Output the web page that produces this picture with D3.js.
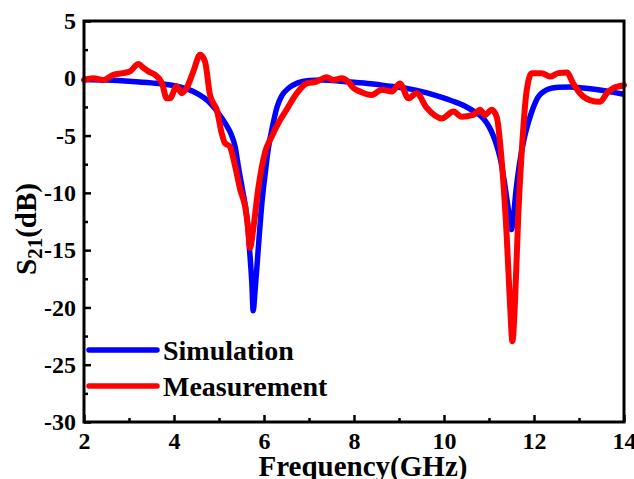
<!DOCTYPE html>
<html>
<head>
<meta charset="utf-8">
<script src="https://cdn.jsdelivr.net/npm/d3@7"></script>
<style>
  body { margin:0; background:#ffffff; }
  svg { display:block; }
  text { font-family:"Times New Roman","Liberation Serif",serif; font-weight:bold; fill:#000; }
</style>
</head>
<body>
<svg id="chart" width="634" height="479"></svg>
<script>
// simulation curve (GHz, dB)
var simFreq=[2.0,2.5,3.0,3.5,4.0,4.3,4.55,4.75,4.9,5.05,5.15,5.26,5.36,5.43,5.53,5.62,5.68,5.73,5.76,5.8,5.84,5.87,5.96,6.03,6.09,6.2,6.29,6.4,6.55,6.75,7.0,7.3,7.7,8.0,8.43,8.8,9.2,9.6,9.9,10.2,10.45,10.65,10.82,10.95,11.05,11.15,11.25,11.34,11.42,11.47,11.5,11.54,11.6,11.68,11.78,11.88,11.98,12.08,12.2,12.35,12.55,12.8,13.1,13.5,13.8,14.0];
var simS21=[-0.1,-0.15,-0.25,-0.4,-0.65,-0.95,-1.4,-1.95,-2.6,-3.4,-4.0,-4.8,-6.0,-7.7,-9.9,-12.1,-15.0,-17.9,-20.3,-18.6,-16.6,-15.0,-10.6,-8.2,-6.3,-4.0,-2.5,-1.5,-0.85,-0.4,-0.2,-0.15,-0.25,-0.35,-0.5,-0.7,-0.9,-1.25,-1.6,-2.0,-2.4,-2.85,-3.3,-3.9,-4.6,-5.6,-7.0,-9.0,-11.2,-12.6,-13.2,-12.2,-9.8,-7.4,-5.3,-3.8,-2.6,-1.7,-1.2,-0.9,-0.78,-0.75,-0.85,-1.05,-1.25,-1.4];

// measurement curve (GHz, dB)
var measFreq=[2.0,2.21,2.43,2.65,2.87,3.02,3.21,3.32,3.43,3.58,3.73,3.84,3.91,4.06,4.17,4.28,4.43,4.58,4.69,4.8,4.87,4.95,5.06,5.13,5.24,5.36,5.47,5.58,5.65,5.69,5.76,5.87,6.02,6.17,6.32,6.5,6.73,6.95,7.17,7.39,7.54,7.73,7.87,7.99,8.13,8.39,8.62,8.84,9.02,9.21,9.39,9.62,9.95,10.21,10.39,10.65,10.8,10.91,11.06,11.17,11.28,11.39,11.47,11.52,11.58,11.65,11.73,11.84,11.95,12.17,12.36,12.54,12.73,12.87,13.02,13.24,13.47,13.62,13.76,13.95,14.0];
var measS21=[-0.15,0.0,-0.15,0.3,0.45,0.6,1.25,0.9,0.6,0.3,-0.4,-1.75,-1.75,-0.7,-1.3,-0.85,0.6,2.05,1.45,-1.45,-2.15,-2.75,-4.8,-5.65,-5.95,-7.7,-9.7,-11.2,-13.2,-14.8,-13.2,-9.7,-6.5,-5.1,-3.9,-2.75,-1.3,-0.45,-0.3,0.1,-0.15,0.0,-0.3,-0.85,-1.15,-1.45,-1.0,-1.15,-0.45,-1.75,-1.3,-2.6,-3.5,-2.9,-3.35,-3.2,-2.75,-3.2,-2.75,-3.35,-7.1,-13.5,-19.9,-22.95,-19.3,-12.05,-6.25,-1.0,0.45,0.45,0.15,0.45,0.5,-0.45,-1.3,-1.9,-2.05,-1.3,-0.85,-0.65,-0.6];

var xMajor=[2,4,6,8,10,12,14];
var xMinor=[3,5,7,9,11,13];
var yMajor=[5,0,-5,-10,-15,-20,-25,-30];
var yMinor=[2.5,-2.5,-7.5,-12.5,-17.5,-22.5,-27.5];

var seriesNames=["Simulation","Measurement"];
var seriesColors=["#0000ff","#ff0000"];

var plotL=84, plotR=624, plotT=21, plotB=422;

var svg=d3.select("#chart");

var x=d3.scaleLinear().domain([2,14]).range([plotL,plotR]);
var y=d3.scaleLinear().domain([-30,5]).range([plotB,plotT]);

// plain hyphen like the original, not the unicode minus
var fmt=function(d){ return String(d); };

// minor ticks
svg.append("g")
    .attr("transform","translate(0,"+plotB+")")
    .call(d3.axisBottom(x).tickValues(xMinor).tickSize(-4).tickFormat(""))
    .call(function(g){ g.select(".domain").remove(); g.selectAll("line").attr("stroke","#000").attr("stroke-width",2.5); });

svg.append("g")
    .attr("transform","translate("+plotL+",0)")
    .call(d3.axisLeft(y).tickValues(yMinor).tickSize(-4).tickFormat(""))
    .call(function(g){ g.select(".domain").remove(); g.selectAll("line").attr("stroke","#000").attr("stroke-width",2.5); });

// major ticks + labels
svg.append("g")
    .attr("transform","translate(0,"+plotB+")")
    .call(d3.axisBottom(x).tickValues(xMajor).tickSize(-7).tickPadding(10).tickFormat(fmt))
    .call(function(g){
        g.select(".domain").remove();
        g.selectAll("line").attr("stroke","#000").attr("stroke-width",2.5);
        g.selectAll("text").attr("font-family",null).attr("font-size",null).style("font-size","24px");
    });

svg.append("g")
    .attr("transform","translate("+plotL+",0)")
    .call(d3.axisLeft(y).tickValues(yMajor).tickSize(-7).tickPadding(8).tickFormat(fmt))
    .call(function(g){
        g.select(".domain").remove();
        g.selectAll("line").attr("stroke","#000").attr("stroke-width",2.5);
        g.selectAll("text").attr("font-family",null).attr("font-size",null).style("font-size","24px");
    });

// curves
var simData=simFreq.map(function(f,i){ return [f,simS21[i]]; });
var measData=measFreq.map(function(f,i){ return [f,measS21[i]]; });

var line=d3.line()
    .x(function(d){ return x(d[0]); })
    .y(function(d){ return y(d[1]); })
    .curve(d3.curveMonotoneX);

svg.append("path")
    .datum(simData)
    .attr("d",line)
    .attr("fill","none")
    .attr("stroke",seriesColors[0])
    .attr("stroke-width",5.5)
    .attr("stroke-linejoin","round");

svg.append("path")
    .datum(measData)
    .attr("d",line)
    .attr("fill","none")
    .attr("stroke",seriesColors[1])
    .attr("stroke-width",6)
    .attr("stroke-linejoin","round")
    .attr("stroke-linecap","round");

// frame
svg.append("rect")
    .attr("x",plotL).attr("y",plotT)
    .attr("width",plotR-plotL).attr("height",plotB-plotT)
    .attr("fill","none")
    .attr("stroke","#000")
    .attr("stroke-width",3);

// legend
var legend=svg.append("g");
seriesNames.forEach(function(name,i){
    var ly=350+i*36;
    legend.append("line")
        .attr("x1",89).attr("x2",157)
        .attr("y1",ly).attr("y2",ly)
        .attr("stroke",seriesColors[i])
        .attr("stroke-width",5.5)
        .attr("stroke-linecap","round");
    legend.append("text")
        .attr("x",163).attr("y",ly+10)
        .style("font-size","28px")
        .text(name);
});

// axis titles
svg.append("text")
    .attr("x",(plotL+plotR)/2+9).attr("y",476)
    .attr("text-anchor","middle")
    .style("font-size","29px")
    .text("Frequency(GHz)");

var yt=svg.append("text")
    .attr("transform","translate(36,229) rotate(-90)")
    .attr("text-anchor","middle")
    .style("font-size","29px");
yt.append("tspan").text("S");
yt.append("tspan").attr("dy",6).style("font-size","21px").text("21");
yt.append("tspan").attr("dy",-6).text("(dB)");
</script>
</body>
</html>
